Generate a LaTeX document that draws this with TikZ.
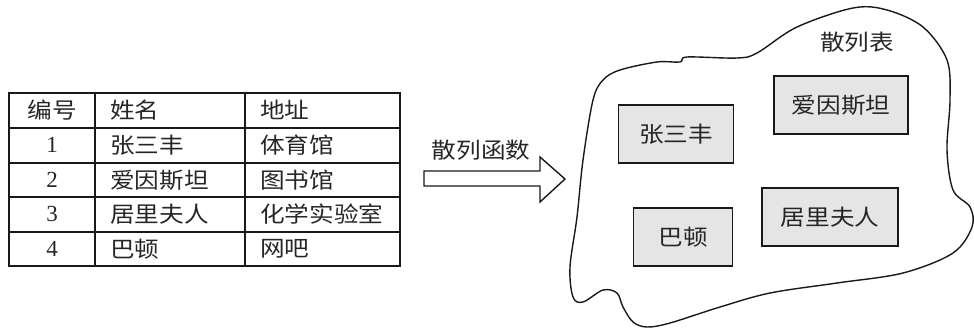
\documentclass[tikz,border=0pt]{standalone}
\usepackage{fontspec}
\setmainfont{Liberation Serif}
\newfontfamily\cjk[FakeStretch=1.12]{Noto Sans CJK SC}
\begin{document}
\begin{tikzpicture}[x=1pt,y=-1pt,
  line/.style={line width=1.4pt, draw=black!90},
  cell/.style={inner sep=0pt, anchor=west, font=\cjk\fontsize{22}{24}\selectfont, text=black!85},
  numcell/.style={inner sep=0pt, font=\fontsize{23}{24}\selectfont, text=black!85},
  item/.style={line width=1.4pt, draw=black!90, fill=black!10, minimum height=58pt, font=\cjk\fontsize{22}{24}\selectfont, text=black!85, inner sep=0pt},
  lbl/.style={inner sep=0pt, font=\cjk\fontsize{22}{24}\selectfont, text=black!85}]
\useasboundingbox (0,0) rectangle (974,330);
% table grid
\draw[line] (9,93) rectangle (400,266);
\foreach \y in {128,163,197,232} \draw[line] (9,\y) -- (400,\y);
\foreach \x in {95,245} \draw[line] (\x,93) -- (\x,266);
% header
\node[lbl] (h1) at (52,110) {编号};
\node[cell] (h2) at (110,110) {姓名};
\node[cell] (h3) at (260,110) {地址};
% rows
\node[numcell] (n1) at (52,145) {1};
\node[cell] (a1) at (110,145) {张三丰};
\node[cell] (b1) at (260,145) {体育馆};
\node[numcell] (n2) at (52,180) {2};
\node[cell] (a2) at (110,180) {爱因斯坦};
\node[cell] (b2) at (260,180) {图书馆};
\node[numcell] (n3) at (52,214) {3};
\node[cell] (a3) at (110,214) {居里夫人};
\node[cell] (b3) at (260,214) {化学实验室};
\node[numcell] (n4) at (52,249) {4};
\node[cell] (a4) at (110,249) {巴顿};
\node[cell] (b4) at (260,249) {网吧};
% block arrow
\draw[line, fill=white] (424,171) -- (540,171) -- (540,157) -- (565,179) -- (540,202) -- (540,186) -- (424,186) -- cycle;
\node[lbl] (fn) at (481,150) {散列函数};
% blob
\draw[line] plot[smooth cycle, tension=0.55] coordinates {
(853,8) (887,10) (923,27) (947,60) (950,100) (947,150) (953,190) (970,207) (972,227) (953,253) (903,273) (837,283) (770,293) (720,307) (670,323) (647,327) (633,322) (623,307) (617,293) (603,290) (583,302) (573,297) (570,267) (577,217) (583,160) (593,100) (603,80) (620,70) (657,62) (680,62) (687,57) (737,58) (757,53) (797,27)};
\node[lbl] (ht) at (857,42) {散列表};
% items
\node[item, minimum width=115pt] (z) at (676,134) {张三丰};
\node[item, minimum width=134pt] (e) at (841,105) {爱因斯坦};
\node[item, minimum width=99pt] (b) at (683,237) {巴顿};
\node[item, minimum width=136pt] (c) at (830,217) {居里夫人};
\end{tikzpicture}
\end{document}
